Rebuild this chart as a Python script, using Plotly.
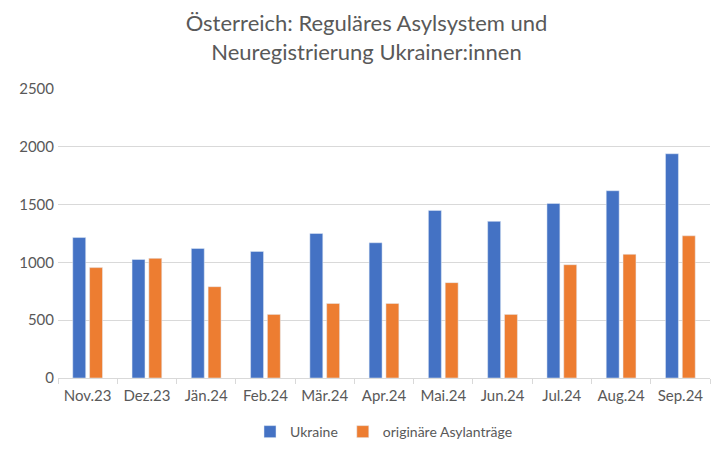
import plotly.graph_objects as go

# Monatswerte
monate = ["Nov.23", "Dez.23", "Jän.24", "Feb.24", "Mär.24", "Apr.24",
          "Mai.24", "Jun.24", "Jul.24", "Aug.24", "Sep.24"]
ukraine = [1215, 1025, 1120, 1095, 1250, 1170, 1450, 1355, 1510, 1620, 1940]
asylantraege = [955, 1035, 790, 550, 645, 645, 825, 550, 980, 1070, 1230]

fig = go.Figure()
fig.add_trace(go.Bar(x=monate, y=ukraine, name="Ukraine", marker_color="#4472C4"))
fig.add_trace(go.Bar(x=monate, y=asylantraege, name="originäre Asylanträge", marker_color="#ED7D31"))

grau = "#595959"
# die Seite hat 8px Rand, deshalb etwas kleiner
fig.update_layout(
    width=717, height=444,
    paper_bgcolor="white", plot_bgcolor="white",
    font=dict(family="Lato, Noto Sans, sans-serif", size=15, color=grau),
    title=dict(text="Österreich: Reguläres Asylsystem und<br>Neuregistrierung Ukrainer:innen",
               x=0.5, xanchor="center", y=0.948, yanchor="top",
               font=dict(size=22, color=grau)),
    barmode="group", bargap=0.433, bargroupgap=0.23,
    margin=dict(l=50, r=15, t=81, b=74, autoexpand=False),
    legend=dict(orientation="h", x=0.5, xanchor="center", yref="container", y=0.081, yanchor="top",
                font=dict(size=14, color=grau), traceorder="normal", itemwidth=30),
)
fig.update_yaxes(range=[0, 2500], dtick=500, showgrid=True, gridcolor="#d9d9d9",
                 zeroline=False, showline=False, ticks="", ticklabelstandoff=3, automargin=False)
fig.update_xaxes(showline=True, linecolor="#d9d9d9", ticks="outside", tickson="boundaries",
                 tickcolor="#d9d9d9", ticklen=5, showgrid=False, automargin=False,
                 ticklabelstandoff=4)

fig.write_html("out.html")
